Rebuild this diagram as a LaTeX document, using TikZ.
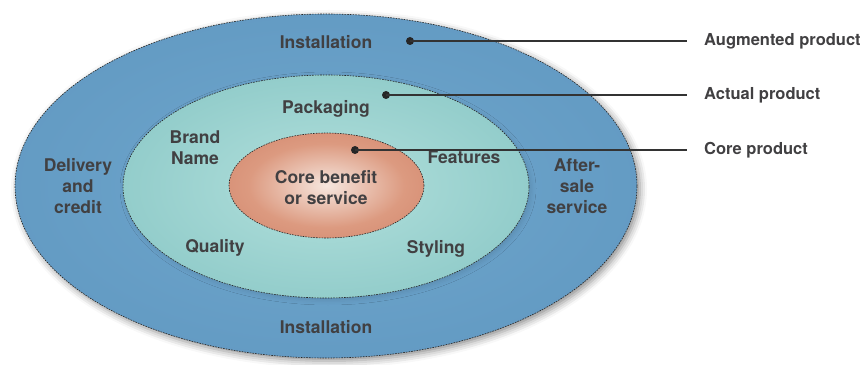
\documentclass[tikz,border=0pt]{standalone}
\usepackage{fontspec}
\setmainfont{TeX Gyre Heros}
\usetikzlibrary{shapes.geometric,shadows.blur}
\definecolor{txt}{HTML}{414042}
\definecolor{outA}{HTML}{70A7CD}
\definecolor{outB}{HTML}{6098C1}
\definecolor{outC}{HTML}{4F84AD}
\definecolor{midA}{HTML}{B2E0DC}
\definecolor{midB}{HTML}{93CDCB}
\definecolor{midC}{HTML}{6DB3BA}
\definecolor{corA}{HTML}{F6E6DE}
\definecolor{corB}{HTML}{DC9A80}
\definecolor{corC}{HTML}{C8735A}
\pgfdeclareradialshading{outershade}{\pgfpoint{0bp}{0bp}}{color(0bp)=(outA); color(32bp)=(outB); color(50bp)=(outC)}
\pgfdeclareradialshading{middleshade}{\pgfpoint{0bp}{0bp}}{color(0bp)=(midA); color(25bp)=(midB); color(50bp)=(midC)}
\pgfdeclareradialshading{coreshade}{\pgfpoint{0bp}{0bp}}{color(0bp)=(corA); color(20bp)=(corB); color(50bp)=(corC)}
\begin{document}
\begin{tikzpicture}[x=1pt,y=1pt,
  ring/.style={ellipse, draw=black!85, line width=0.6pt, dash pattern=on 1.6pt off 1.1pt, inner sep=0pt, outer sep=0pt},
  lbl/.style={font=\bfseries\fontsize{17.5}{21}\selectfont, text=txt, align=center, inner sep=0pt},
  key/.style={font=\bfseries\fontsize{16.5}{21}\selectfont, text=txt, anchor=west, inner sep=0pt, text height=10pt, text depth=0pt},
  dot/.style={circle, fill=black!85, inner sep=0pt, minimum size=8pt},
  lead/.style={draw=black!80, line width=1.1pt}]
\useasboundingbox (0,0) rectangle (866,364);
% rings
\node[ring, shading=outershade, minimum width=622pt, minimum height=344pt,
  blur shadow={shadow xshift=3pt, shadow yshift=-3pt, shadow blur radius=7pt, shadow opacity=45}] (aug) at (326,178) {};
\node[ring, shading=middleshade, minimum width=406pt, minimum height=223pt,
  blur shadow={shadow xshift=2pt, shadow yshift=-2pt, shadow blur radius=5pt, shadow opacity=12}] (act) at (326,177.5) {};
\node[ring, shading=coreshade, minimum width=195pt, minimum height=105pt] (cor) at (326.5,178.5) {};
% labels inside
\node[lbl] (inst1) at (326,322) {Installation};
\node[lbl] (pack) at (326,255) {Packaging};
\node[lbl] (brand) at (195,216) {Brand\\Name};
\node[lbl] (deliv) at (78,178) {Delivery\\and\\credit};
\node[lbl] (core) at (326,176) {Core benefit\\or service};
\node[lbl] (feat) at (464,207) {Features};
\node[lbl] (after) at (577,178) {After-\\sale\\service};
\node[lbl] (qual) at (215,116) {Quality};
\node[lbl] (styl) at (436,115) {Styling};
\node[lbl] (inst2) at (326,37) {Installation};
% keys
\node[key] (kaug) at (704,323) {Augmented product};
\node[key] (kact) at (704,269) {Actual product};
\node[key] (kcor) at (704,214) {Core product};
\node[dot] (daug) at (410,323) {};
\node[dot] (dact) at (386,269) {};
\node[dot] (dcor) at (355,214) {};
\draw[lead] (daug.center) -- ([xshift=-17pt]kaug.west);
\draw[lead] (dact.center) -- ([xshift=-17pt]kact.west);
\draw[lead] (dcor.center) -- ([xshift=-17pt]kcor.west);
\end{tikzpicture}
\end{document}
